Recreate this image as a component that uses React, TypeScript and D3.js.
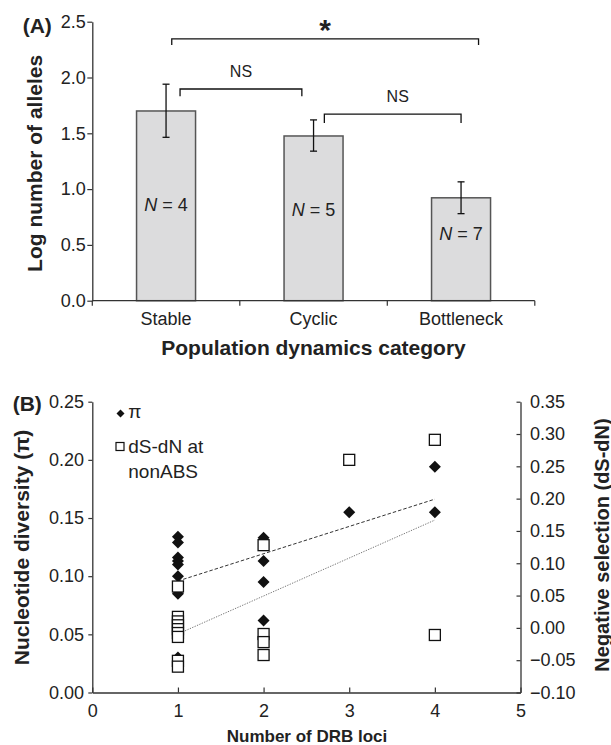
import React, { useRef, useEffect } from "react";
import * as d3 from "d3";

// Panel A: log number of alleles by population dynamics category
const categories = ["Stable", "Cyclic", "Bottleneck"];
const logAlleles = [1.7, 1.476, 0.922];
const errorUpper = [1.94, 1.62, 1.065];
const errorLower = [1.464, 1.34, 0.78];
const sampleSizes = [4, 5, 7];
const alleleTicks = [0, 0.5, 1, 1.5, 2, 2.5];

const comparisons = [
  { from: 0, to: 2, label: "*" },
  { from: 0, to: 1, label: "NS" },
  { from: 1, to: 2, label: "NS" },
];

// Panel B: nucleotide diversity and dS-dN vs number of DRB loci
const piLoci = [1, 1, 1, 1, 1, 1, 1, 1, 1, 2, 2, 2, 2, 3, 4, 4];
const piValues = [
  0.134, 0.129, 0.116, 0.113, 0.11, 0.1, 0.091, 0.085, 0.03, 0.133, 0.113,
  0.095, 0.062, 0.155, 0.194, 0.155,
];
const dsDnLoci = [1, 1, 1, 1, 1, 1, 1, 1, 1, 2, 2, 2, 2, 3, 4, 4];
const dsDnValues = [
  0.064, 0.017, 0.01, 0.004, -0.002, -0.008, -0.014, -0.051, -0.06, 0.128,
  -0.0095, -0.022, -0.042, 0.26, 0.291, -0.011,
];
const lociTicks = [0, 1, 2, 3, 4, 5];
const piTicks = [0, 0.05, 0.1, 0.15, 0.2, 0.25];
const dsDnTicks = [-0.1, -0.05, 0, 0.05, 0.1, 0.15, 0.2, 0.25, 0.3, 0.35];

const FONT = "'Liberation Sans', Arial, Helvetica, sans-serif";
const INK = "#222";

const linearFit = (xs: number[], ys: number[]) => {
  const mx = d3.mean(xs) as number;
  const my = d3.mean(ys) as number;
  let sxy = 0;
  let sxx = 0;
  xs.forEach((x, i) => {
    sxy += (x - mx) * (ys[i] - my);
    sxx += (x - mx) * (x - mx);
  });
  const slope = sxy / sxx;
  return (x: number) => my + slope * (x - mx);
};

const diamond = (r: number) => `M0,${-r}L${r},0L0,${r}L${-r},0Z`;

const App = () => {
  const svgRef = useRef<SVGSVGElement>(null);

  useEffect(() => {
    const svg = d3.select(svgRef.current);
    svg.selectAll("*").remove();

    const styleAxis = (g: any, size: number) => {
      g.select(".domain").attr("stroke", "#333").attr("stroke-width", 1.3);
      g.selectAll(".tick line").attr("stroke", "#333").attr("stroke-width", 1.2);
      g.selectAll(".tick text")
        .attr("fill", INK)
        .style("font-family", FONT)
        .style("font-size", size + "px");
    };

    // ---------- Panel A ----------
    const xA = d3
      .scaleBand()
      .domain(categories)
      .range([92.3, 534.8])
      .paddingInner(0.6)
      .paddingOuter(0.3);
    const yA = d3.scaleLinear().domain([0, 2.5]).range([300.7, 21.7]);
    const gA = svg.append("g");

    gA.selectAll(".bar")
      .data(categories)
      .join("rect")
      .attr("class", "bar")
      .attr("x", (d) => xA(d) as number)
      .attr("y", (d, i) => yA(logAlleles[i]))
      .attr("width", xA.bandwidth())
      .attr("height", (d, i) => yA(0) - yA(logAlleles[i]))
      .attr("fill", "#dcdcdd")
      .attr("stroke", "#555")
      .attr("stroke-width", 1.5);

    const centerA = (i: number) =>
      (xA(categories[i]) as number) + xA.bandwidth() / 2;

    const err = gA
      .selectAll(".err")
      .data(categories)
      .join("g")
      .attr("class", "err")
      .attr("stroke", "#111")
      .attr("stroke-width", 1.3);
    err
      .append("line")
      .attr("x1", (d, i) => centerA(i))
      .attr("x2", (d, i) => centerA(i))
      .attr("y1", (d, i) => yA(errorLower[i]))
      .attr("y2", (d, i) => yA(errorUpper[i]));
    [errorLower, errorUpper].forEach((arr) => {
      err
        .append("line")
        .attr("x1", (d, i) => centerA(i) - 3.5)
        .attr("x2", (d, i) => centerA(i) + 3.5)
        .attr("y1", (d, i) => yA(arr[i]))
        .attr("y2", (d, i) => yA(arr[i]));
    });

    // N labels inside bars
    const nLabelY = [0.8, 0.76, 0.54];
    const nText = gA
      .selectAll(".nlab")
      .data(sampleSizes)
      .join("text")
      .attr("class", "nlab")
      .attr("x", (d, i) => centerA(i))
      .attr("y", (d, i) => yA(nLabelY[i]))
      .attr("text-anchor", "middle")
      .attr("fill", INK)
      .style("font-family", FONT)
      .style("font-size", "18px");
    nText.append("tspan").style("font-style", "italic").text("N");
    nText.append("tspan").text((d) => ` = ${d}`);

    // significance brackets
    const bracketLayout = [
      { y: 2.346, left: 5.7, right: 17.5, drop: 6, size: 30, bold: true, gap: -0.7, dx: 0 },
      { y: 1.897, left: 14, right: -11.7, drop: 7.3, size: 16, bold: false, gap: 12.4, dx: 0 },
      { y: 1.672, left: 10.8, right: 0, drop: 8.9, size: 16, bold: false, gap: 12.6, dx: 5 },
    ];
    comparisons.forEach((c, k) => {
      const l = bracketLayout[k];
      const x1 = centerA(c.from) + l.left;
      const x2 = centerA(c.to) + l.right;
      const y = yA(l.y);
      gA.append("path")
        .attr("d", `M${x1},${y + l.drop}V${y}H${x2}V${y + l.drop}`)
        .attr("fill", "none")
        .attr("stroke", "#111")
        .attr("stroke-width", 1.3);
      gA.append("text")
        .attr("x", (x1 + x2) / 2 + l.dx)
        .attr("y", y - l.gap)
        .attr("text-anchor", "middle")
        .attr("fill", INK)
        .style("font-family", FONT)
        .style("font-size", l.size + "px")
        .style("font-weight", l.bold ? "bold" : "normal")
        .text(c.label);
    });

    // axes A
    const yAxisA = gA
      .append("g")
      .attr("transform", "translate(92.3,0)")
      .call(
        d3
          .axisLeft(yA)
          .tickValues(alleleTicks)
          .tickFormat(d3.format(".1f"))
          .tickSizeInner(5)
          .tickSizeOuter(0)
          .tickPadding(1.5)
      );
    styleAxis(yAxisA, 18);

    gA.append("line")
      .attr("x1", 92.3)
      .attr("x2", 534.8)
      .attr("y1", yA(0))
      .attr("y2", yA(0))
      .attr("stroke", "#333")
      .attr("stroke-width", 1.3);
    const step = xA.step();
    d3.range(categories.length + 1).forEach((k) => {
      const x = 92.3 + k * step;
      gA.append("line")
        .attr("x1", x)
        .attr("x2", x)
        .attr("y1", yA(0))
        .attr("y2", yA(0) + 5)
        .attr("stroke", "#333")
        .attr("stroke-width", 1.2);
    });
    gA.selectAll(".cat")
      .data(categories)
      .join("text")
      .attr("class", "cat")
      .attr("x", (d, i) => centerA(i))
      .attr("y", 325)
      .attr("text-anchor", "middle")
      .attr("fill", INK)
      .style("font-family", FONT)
      .style("font-size", "18px")
      .text((d) => d);

    const boldText = (
      g: any,
      x: number,
      y: number,
      text: string,
      size: number,
      anchor: string,
      rotate = 0
    ) =>
      g
        .append("text")
        .attr("transform", `translate(${x},${y}) rotate(${rotate})`)
        .attr("text-anchor", anchor)
        .attr("fill", INK)
        .style("font-family", FONT)
        .style("font-size", size + "px")
        .style("font-weight", "bold")
        .text(text);

    boldText(gA, 313.5, 354.5, "Population dynamics category", 21, "middle");
    boldText(gA, 41.7, 163.4, "Log number of alleles", 21, "middle", -90);
    boldText(gA, 22.7, 32.5, "(A)", 21, "start");

    // ---------- Panel B ----------
    const xB = d3.scaleLinear().domain([0, 5]).range([92.3, 520.5]);
    const yPi = d3.scaleLinear().domain([0, 0.25]).range([692.5, 401.7]);
    const yDs = d3.scaleLinear().domain([-0.1, 0.35]).range([692.5, 401.7]);
    const gB = svg.append("g");

    const xAxisB = gB
      .append("g")
      .attr("transform", `translate(0,${yPi(0)})`)
      .call(
        d3
          .axisBottom(xB)
          .tickValues(lociTicks)
          .tickFormat(d3.format("d"))
          .tickSizeInner(-5)
          .tickSizeOuter(0)
          .tickPadding(11.4)
      );
    styleAxis(xAxisB, 18);

    const yAxisB = gB
      .append("g")
      .attr("transform", `translate(${xB(0)},0)`)
      .call(
        d3
          .axisLeft(yPi)
          .tickValues(piTicks)
          .tickFormat(d3.format(".2f"))
          .tickSizeInner(4)
          .tickSizeOuter(0)
          .tickPadding(4.3)
      );
    styleAxis(yAxisB, 18);

    const yAxisR = gB
      .append("g")
      .attr("transform", `translate(${xB(5)},0)`)
      .call(
        d3
          .axisRight(yDs)
          .tickValues(dsDnTicks)
          .tickFormat(d3.format(".2f"))
          .tickSizeInner(-4)
          .tickSizeOuter(0)
          .tickPadding(9.5)
      );
    styleAxis(yAxisR, 18);

    // regression lines
    const piFit = linearFit(piLoci, piValues);
    const dsFit = linearFit(dsDnLoci, dsDnValues);
    const [lo, hi] = d3.extent(piLoci) as [number, number];
    gB.append("line")
      .attr("x1", xB(lo))
      .attr("x2", xB(hi))
      .attr("y1", yPi(piFit(lo)))
      .attr("y2", yPi(piFit(hi)))
      .attr("stroke", "#333")
      .attr("stroke-width", 1)
      .attr("stroke-dasharray", "3.5,2");
    const [lo2, hi2] = d3.extent(dsDnLoci) as [number, number];
    gB.append("line")
      .attr("x1", xB(lo2))
      .attr("x2", xB(hi2))
      .attr("y1", yDs(dsFit(lo2)))
      .attr("y2", yDs(dsFit(hi2)))
      .attr("stroke", "#777")
      .attr("stroke-width", 1)
      .attr("stroke-dasharray", "1.3,1.3");

    gB.selectAll(".pi")
      .data(piValues)
      .join("path")
      .attr("class", "pi")
      .attr("d", diamond(6))
      .attr("transform", (d, i) => `translate(${xB(piLoci[i])},${yPi(d)})`)
      .attr("fill", "#111");

    gB.selectAll(".ds")
      .data(dsDnValues)
      .join("rect")
      .attr("class", "ds")
      .attr("x", (d, i) => xB(dsDnLoci[i]) - 5.5)
      .attr("y", (d) => yDs(d) - 5.5)
      .attr("width", 11)
      .attr("height", 11)
      .attr("fill", "#fff")
      .attr("stroke", "#111")
      .attr("stroke-width", 1.3);

    // legend
    gB.append("path")
      .attr("d", diamond(4))
      .attr("transform", "translate(120.5,413.5)")
      .attr("fill", "#111");
    gB.append("rect")
      .attr("x", 116)
      .attr("y", 442.5)
      .attr("width", 8)
      .attr("height", 8)
      .attr("fill", "#fff")
      .attr("stroke", "#111")
      .attr("stroke-width", 1.2);
    const legendText = (y: number, t: string) =>
      gB
        .append("text")
        .attr("x", 128.3)
        .attr("y", y)
        .attr("fill", INK)
        .style("font-family", FONT)
        .style("font-size", "19px")
        .text(t);
    legendText(418.3, "π");
    legendText(453.3, "dS-dN at");
    legendText(478.3, "nonABS");

    boldText(gB, 307, 741.7, "Number of DRB loci", 17, "middle");
    boldText(gB, 29, 547.5, "Nucleotide diversity (π)", 21, "middle", -90);
    boldText(gB, 608.5, 545, "Negative selection (dS-dN)", 20, "middle", -90);
    boldText(gB, 12.7, 410.7, "(B)", 21, "start");
  }, []);

  return (
    <svg
      ref={svgRef}
      width={611}
      height={745}
      style={{ position: "absolute", left: 0, top: 0, background: "#fff" }}
    ></svg>
  );
};

export default App;
